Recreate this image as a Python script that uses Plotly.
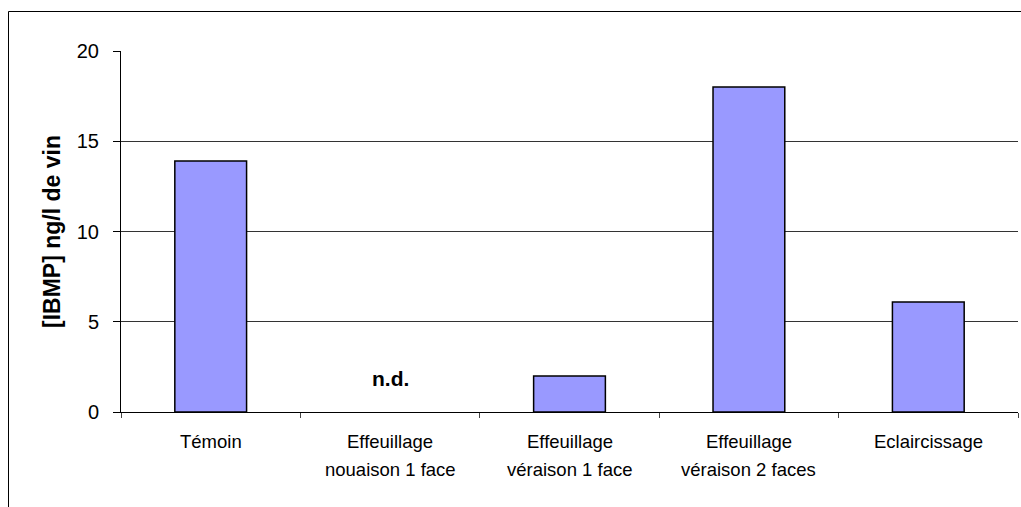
import plotly.graph_objects as go

# IBMP concentration per vineyard treatment (n.d. = not detected)
categories = [
    "Témoin",
    "Effeuillage nouaison 1 face",
    "Effeuillage véraison 1 face",
    "Effeuillage véraison 2 faces",
    "Eclaircissage",
]
ibmp_values = [13.9, None, 2.0, 18.0, 6.1]
not_detected = ["", "n.d.", "", "", ""]
y_ticks = [0, 5, 10, 15, 20]

W, H = 1021, 507
L, R, T, B = 121, 3, 51, 95
plot_w = W - L - R
plot_h = H - T - B

FONT = "Liberation Sans, Arial, sans-serif"

fig = go.Figure()
fig.add_trace(go.Bar(
    x=categories,
    y=ibmp_values,
    marker=dict(color="#9999FF", line=dict(color="black", width=1.5)),
    width=0.4,
    hoverinfo="x+y",
))

annotations = []
# two-line category labels under the axis
for cat in categories:
    parts = cat.split(" ", 1)
    for i, line in enumerate(parts):
        annotations.append(dict(
            x=cat, y=0, xref="x", yref="y",
            text=line, showarrow=False,
            xanchor="center", yanchor="middle",
            yshift=-29 - 28 * i,
            font=dict(family=FONT, size=18.5, color="black"),
        ))
# "n.d." marker for undetected levels
for cat, txt in zip(categories, not_detected):
    if txt:
        annotations.append(dict(
            x=cat, y=0, xref="x", yref="y",
            text=f"<b>{txt}</b>", showarrow=False,
            xanchor="center", yanchor="bottom", yshift=20,
            font=dict(family=FONT, size=21, color="black"),
        ))


def px_to_paper_x(px):
    return (px - L) / plot_w


def px_to_paper_y(py):
    return (H - B - py) / plot_h


# outer chart frame (left and top edges visible)
shapes = [
    dict(type="line", xref="paper", yref="paper",
         x0=px_to_paper_x(8.5), y0=px_to_paper_y(11.5),
         x1=px_to_paper_x(W + 5), y1=px_to_paper_y(11.5),
         line=dict(color="black", width=1)),
    dict(type="line", xref="paper", yref="paper",
         x0=px_to_paper_x(8.5), y0=px_to_paper_y(11.5),
         x1=px_to_paper_x(8.5), y1=px_to_paper_y(H + 5),
         line=dict(color="black", width=1)),
]

fig.update_layout(
    width=W, height=H,
    margin=dict(l=L, r=R, t=T, b=B, pad=0),
    paper_bgcolor="white", plot_bgcolor="white",
    showlegend=False,
    bargap=0.6,
    font=dict(family=FONT, color="black"),
    annotations=annotations,
    shapes=shapes,
)
fig.update_xaxes(
    type="category",
    showticklabels=False,
    showline=True, linecolor="black", linewidth=1,
    ticks="outside", ticklen=5, tickcolor="#444", tickson="boundaries",
    showgrid=False, zeroline=False,
    range=[-0.5, len(categories) - 0.5],
)
fig.update_yaxes(
    range=[0, 20],
    tickvals=y_ticks,
    ticks="outside", ticklen=7, tickcolor="black",
    tickfont=dict(family=FONT, size=20, color="black"),
    ticklabelstandoff=10,
    showline=True, linecolor="black", linewidth=1,
    showgrid=True, gridcolor="#333", gridwidth=1,
    zeroline=False,
    title=dict(text="<b>[IBMP] ng/l de vin</b>",
               font=dict(family=FONT, size=23, color="black"),
               standoff=9),
)

fig.write_html("out.html")
